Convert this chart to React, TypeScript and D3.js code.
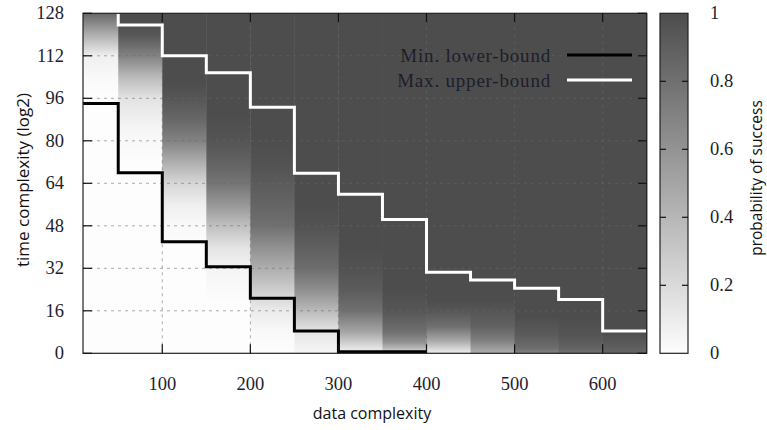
import React from 'react';
import * as d3 from 'd3';

// bin edges along data complexity (first bin is cut by the axis at 10)
const binEdges = [10, 50, 100, 150, 200, 250, 300, 350, 400, 450, 500, 550, 600, 650];

// probability of success inside each bin, as [time, probability] stops
const binStops: [number, number][][] = [
  [[96, 0], [104, 0.02], [112, 0.08], [120, 0.45], [128, 0.85]],
  [[72, 0], [84, 0.04], [96, 0.15], [104, 0.38], [112, 0.7], [120, 0.95], [124, 1]],
  [[40, 0], [48, 0.02], [56, 0.08], [64, 0.22], [72, 0.45], [80, 0.7], [88, 0.85], [96, 0.95], [102, 1]],
  [[20, 0], [32, 0.05], [40, 0.15], [48, 0.35], [56, 0.58], [64, 0.78], [72, 0.88], [80, 0.96], [90, 1]],
  [[0, 0], [8, 0.02], [16, 0.1], [24, 0.27], [32, 0.45], [40, 0.62], [48, 0.8], [56, 0.87], [64, 0.92], [72, 0.97], [80, 1]],
  [[0, 0.04], [8, 0.13], [16, 0.38], [24, 0.63], [32, 0.82], [40, 0.9], [48, 0.97], [56, 1]],
  [[0, 0.08], [2, 0.15], [8, 0.5], [16, 0.8], [24, 0.92], [32, 0.97], [40, 1]],
  [[0, 0.2], [4, 0.6], [8, 0.8], [16, 0.95], [24, 1]],
  [[0, 0.08], [5, 0.5], [10, 0.8], [16, 0.95], [20, 1]],
  [[0, 0.45], [5, 0.72], [10, 0.88], [20, 1]],
  [[0, 0.7], [2, 0.82], [7, 0.92], [14, 1]],
  [[0, 0.8], [2, 0.88], [7, 0.96], [14, 1]],
  [[0, 0.86], [2, 0.9], [5, 0.95], [8, 1]],
];

// step lines
const lowerX = [10, 50, 100, 150, 200, 250, 300, 400];
const lowerBound = [94, 68, 42, 32.6, 20.7, 8.4, 0.6, 0.6];
const upperBound = [136, 123.6, 112, 105.6, 92.6, 67.8, 59.9, 50.4, 30.5, 27.6, 24.5, 20.3, 8.4, 8.4];

const xTicks = [100, 200, 300, 400, 500, 600];
const yTicks = [0, 16, 32, 48, 64, 80, 96, 112, 128];
const cTicks = [0, 0.2, 0.4, 0.6, 0.8, 1];

const W = 767;
const H = 430;
const plot = { left: 83, right: 646.7, top: 13.3, bottom: 353.3 };
const bar = { left: 660, right: 688 };

const serif = '"Liberation Serif", "DejaVu Serif", serif';
const sans = '"Open Sans", "Noto Sans", sans-serif';
const labelColor = '#1d1d2b';

export default function App() {
  const x = d3.scaleLinear().domain([10, 650]).range([plot.left, plot.right]);
  const y = d3.scaleLinear().domain([0, 128]).range([plot.bottom, plot.top]);
  const c = d3.scaleLinear().domain([0, 1]).range([plot.bottom, plot.top]);
  const shade = d3.scaleLinear<string>().domain([0, 1]).range(['#fdfdfd', '#4d4d4d']);

  const stepLine = d3
    .line<[number, number]>()
    .x((d) => x(d[0]))
    .y((d) => y(d[1]))
    .curve(d3.curveStepAfter);

  const lowerPath = stepLine(lowerX.map((v, i) => [v, lowerBound[i]]));
  const upperPath = stepLine(binEdges.map((v, i) => [v, upperBound[i]]));

  const tick = 9;
  const grid = { stroke: '#6a6a6a', strokeOpacity: 0.55, strokeDasharray: '3,4' };

  return (
    <svg width={W} height={H} style={{ position: 'absolute', left: 0, top: 0, background: '#fff' }}>
      <defs>
        <clipPath id="plotClip">
          <rect x={plot.left} y={plot.top} width={plot.right - plot.left} height={plot.bottom - plot.top} />
        </clipPath>
        {binStops.map((stops, i) => (
          <linearGradient
            key={i}
            id={`bin${i}`}
            gradientUnits="userSpaceOnUse"
            x1={0}
            x2={0}
            y1={y(0)}
            y2={y(128)}
          >
            {stops.map(([t, p], j) => (
              <stop key={j} offset={t / 128} stopColor={shade(p)} />
            ))}
          </linearGradient>
        ))}
        <linearGradient id="cbar" x1={0} x2={0} y1={1} y2={0}>
          <stop offset={0} stopColor={shade(0)} />
          <stop offset={1} stopColor={shade(1)} />
        </linearGradient>
      </defs>

      {/* heat map */}
      {binStops.map((_, i) => (
        <rect
          key={i}
          x={x(binEdges[i])}
          y={plot.top}
          width={x(binEdges[i + 1]) - x(binEdges[i]) + 0.5}
          height={plot.bottom - plot.top}
          fill={`url(#bin${i})`}
        />
      ))}

      {/* grid */}
      {xTicks.map((t) => (
        <line key={`gx${t}`} x1={x(t)} x2={x(t)} y1={plot.top} y2={plot.bottom} {...grid} />
      ))}
      {yTicks.slice(1, -1).map((t) => (
        <line key={`gy${t}`} x1={plot.left} x2={plot.right} y1={y(t)} y2={y(t)} {...grid} />
      ))}

      {/* bounds */}
      <g clipPath="url(#plotClip)" fill="none" strokeWidth={3}>
        <path d={upperPath || ''} stroke="#fff" />
        <path d={lowerPath || ''} stroke="#000" />
      </g>

      {/* frame and ticks */}
      <rect
        x={plot.left}
        y={plot.top}
        width={plot.right - plot.left}
        height={plot.bottom - plot.top}
        fill="none"
        stroke="#222"
        strokeWidth={1.2}
      />
      {xTicks.map((t) => (
        <g key={`tx${t}`} stroke="#111" strokeWidth={1.2}>
          <line x1={x(t)} x2={x(t)} y1={plot.bottom} y2={plot.bottom - tick} />
          <line x1={x(t)} x2={x(t)} y1={plot.top} y2={plot.top + tick} />
        </g>
      ))}
      {yTicks.map((t) => (
        <g key={`ty${t}`} stroke="#111" strokeWidth={1.2}>
          <line x1={plot.left} x2={plot.left + tick} y1={y(t)} y2={y(t)} />
          <line x1={plot.right} x2={plot.right - tick} y1={y(t)} y2={y(t)} />
        </g>
      ))}

      {/* tick labels */}
      {xTicks.map((t) => (
        <text
          key={`lx${t}`}
          x={x(t)}
          y={384}
          textAnchor="middle"
          dominantBaseline="central"
          fontFamily={serif}
          fontSize={18.5}
          fill={labelColor}
        >
          {t}
        </text>
      ))}
      {yTicks.map((t) => (
        <text
          key={`ly${t}`}
          x={64}
          y={y(t)}
          textAnchor="end"
          dominantBaseline="central"
          fontFamily={serif}
          fontSize={18.5}
          fill={labelColor}
        >
          {t}
        </text>
      ))}

      {/* axis titles */}
      <text x={372} y={413} textAnchor="middle" dominantBaseline="central" fontFamily={sans} fontSize={16} fill="#111">
        data complexity
      </text>
      <text
        transform={`translate(22,180) rotate(-90)`}
        textAnchor="middle"
        dominantBaseline="central"
        fontFamily={sans}
        fontSize={17}
        fill="#111"
      >
        time complexity (log2)
      </text>

      {/* legend */}
      <g fontFamily={serif} fontSize={19} fill={labelColor} letterSpacing={0.8}>
        <text x={551} y={55} textAnchor="end" dominantBaseline="central">
          Min. lower-bound
        </text>
        <text x={551} y={80} textAnchor="end" dominantBaseline="central">
          Max. upper-bound
        </text>
      </g>
      <line x1={567} x2={632} y1={55} y2={55} stroke="#000" strokeWidth={3} />
      <line x1={567} x2={632} y1={80} y2={80} stroke="#fff" strokeWidth={3} />

      {/* colour bar */}
      <rect
        x={bar.left}
        y={plot.top}
        width={bar.right - bar.left}
        height={plot.bottom - plot.top}
        fill="url(#cbar)"
        stroke="#222"
        strokeWidth={1.2}
      />
      {cTicks.slice(1, -1).map((t) => (
        <g key={`ct${t}`} stroke="#111" strokeWidth={1.2}>
          <line x1={bar.left} x2={bar.left + 6} y1={c(t)} y2={c(t)} />
          <line x1={bar.right} x2={bar.right - 6} y1={c(t)} y2={c(t)} />
        </g>
      ))}
      {cTicks.map((t) => (
        <text
          key={`cl${t}`}
          x={710}
          y={c(t)}
          dominantBaseline="central"
          fontFamily={serif}
          fontSize={18.5}
          fill={labelColor}
        >
          {t}
        </text>
      ))}
      <text
        transform={`translate(756,178) rotate(-90)`}
        textAnchor="middle"
        dominantBaseline="central"
        fontFamily={sans}
        fontSize={15.5}
        fill="#111"
      >
        probability of success
      </text>
    </svg>
  );
}
